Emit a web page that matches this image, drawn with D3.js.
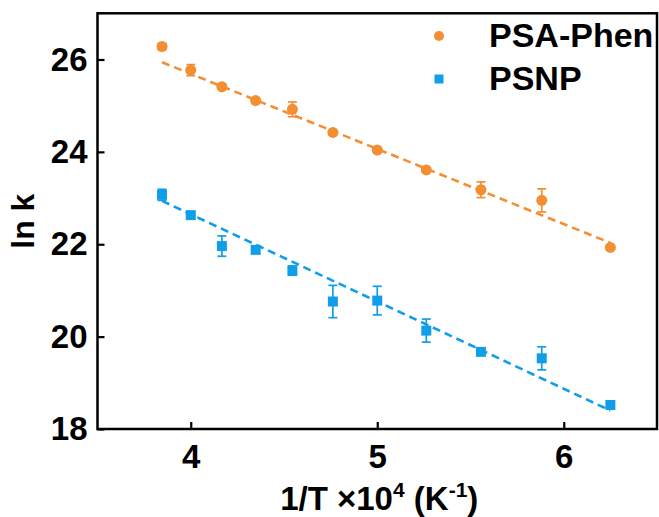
<!DOCTYPE html>
<html><head><meta charset="utf-8">
<script src="https://cdn.jsdelivr.net/npm/d3@7"></script>
<style>body{margin:0;background:#fff}svg{display:block}</style>
</head><body>
<svg id="c" width="659" height="517"></svg>
<script>
// 1/T x 10^4 (K^-1)
const invT = [3.846, 4.0, 4.167, 4.348, 4.545, 4.762, 5.0, 5.263, 5.556, 5.882, 6.25];
const psaPhen = [26.28, 25.77, 25.41, 25.11, 24.92, 24.42, 24.04, 23.61, 23.18, 22.95, 21.93];
const psaPhenErr = [0.07, 0.12, 0.03, 0.04, 0.16, 0.04, 0.06, 0.04, 0.17, 0.25, 0.04];
const psnp = [23.07, 22.63, 21.96, 21.88, 21.43, 20.76, 20.78, 20.13, 19.67, 19.53, 18.52];
const psnpErr = [0.12, 0.04, 0.22, 0.08, 0.10, 0.35, 0.31, 0.25, 0.05, 0.25, 0.04];
const psaPhenFit = [[3.846, 25.94], [6.25, 22.03]];
const psnpFit = [[3.846, 22.94], [6.25, 18.40]];
const xTicks = [4, 5, 6];
const yTicks = [18, 20, 22, 24, 26];
const seriesNames = ["PSA-Phen", "PSNP"];
const colors = ["#F48E32", "#109EE8"];

const svg = d3.select("#c");
const x = d3.scaleLinear().domain([3.5, 6.5]).range([97.5, 657]);
const y = d3.scaleLinear().domain([18, 27]).range([429, 13.3]);
const font = "'Liberation Sans', Arial, sans-serif";

// axes
const gx = svg.append("g").attr("transform", `translate(0,${y(18)})`)
  .call(d3.axisBottom(x).tickValues(xTicks).tickSize(-7).tickPadding(16).tickFormat(d3.format("d")));
const gy = svg.append("g").attr("transform", `translate(${x(3.5)},0)`)
  .call(d3.axisLeft(y).tickValues(yTicks).tickSize(-7).tickPadding(10).tickFormat(d3.format("d")));
[gx, gy].forEach(g => {
  g.select(".domain").remove();
  g.selectAll(".tick line").attr("stroke", "#000").attr("stroke-width", 2.2);
  g.selectAll(".tick text").attr("fill", "#000").style("font-family", font)
    .style("font-weight", "bold").style("font-size", "33px");
});

// frame
svg.append("rect").attr("x", x(3.5)).attr("y", y(27))
  .attr("width", x(6.5) - x(3.5)).attr("height", y(18) - y(27))
  .attr("fill", "none").attr("stroke", "#000").attr("stroke-width", 2.5);

const line = d3.line().x(d => x(d[0])).y(d => y(d[1]));
const series = [
  {vals: psaPhen, err: psaPhenErr, fit: psaPhenFit, color: colors[0], shape: "circle"},
  {vals: psnp, err: psnpErr, fit: psnpFit, color: colors[1], shape: "square"}
];

series.forEach(s => {
  const g = svg.append("g");
  g.append("path").attr("d", line(s.fit)).attr("fill", "none")
    .attr("stroke", s.color).attr("stroke-width", 2.6).attr("stroke-dasharray", "8,5");
  const pts = invT.map((t, i) => ({t, v: s.vals[i], e: s.err[i]}));
  const eb = g.selectAll(".eb").data(pts).enter().append("g").attr("stroke", s.color).attr("stroke-width", 1.7);
  eb.append("line").attr("x1", d => x(d.t)).attr("x2", d => x(d.t))
    .attr("y1", d => y(d.v - d.e)).attr("y2", d => y(d.v + d.e));
  eb.append("line").attr("x1", d => x(d.t) - 4.5).attr("x2", d => x(d.t) + 4.5)
    .attr("y1", d => y(d.v - d.e)).attr("y2", d => y(d.v - d.e));
  eb.append("line").attr("x1", d => x(d.t) - 4.5).attr("x2", d => x(d.t) + 4.5)
    .attr("y1", d => y(d.v + d.e)).attr("y2", d => y(d.v + d.e));
  if (s.shape === "circle") {
    g.selectAll(".m").data(pts).enter().append("circle")
      .attr("cx", d => x(d.t)).attr("cy", d => y(d.v)).attr("r", 5.5).attr("fill", s.color);
  } else {
    g.selectAll(".m").data(pts).enter().append("rect")
      .attr("x", d => x(d.t) - 5).attr("y", d => y(d.v) - 5)
      .attr("width", 10).attr("height", 10).attr("fill", s.color);
  }
});

// legend
const lg = svg.append("g");
lg.append("circle").attr("cx", 439).attr("cy", 36).attr("r", 5).attr("fill", colors[0]);
lg.append("rect").attr("x", 434.5).attr("y", 74.5).attr("width", 9).attr("height", 9).attr("fill", colors[1]);
seriesNames.forEach((n, i) => {
  lg.append("text").attr("x", 489).attr("y", 47 + i * 43).text(n)
    .style("font-family", font).style("font-weight", "bold").style("font-size", "34px").attr("fill", "#000");
});

// axis titles
const xt = svg.append("text").attr("x", (x(3.5) + x(6.5)) / 2 + 2).attr("y", 510)
  .attr("text-anchor", "middle").style("font-family", font).style("font-weight", "bold")
  .style("font-size", "33px").attr("fill", "#000");
xt.append("tspan").text("1/T \u00d710");
xt.append("tspan").text("4").attr("dy", -13).style("font-size", "21px");
xt.append("tspan").text(" (K").attr("dy", 13);
xt.append("tspan").text("-1").attr("dy", -13).style("font-size", "21px");
xt.append("tspan").text(")").attr("dy", 13);

svg.append("text").attr("transform", `translate(34,${(y(18) + y(27)) / 2}) rotate(-90)`)
  .attr("text-anchor", "middle").style("font-family", font).style("font-weight", "bold")
  .style("font-size", "32px").attr("fill", "#000").text("ln k");
</script>
</body></html>
